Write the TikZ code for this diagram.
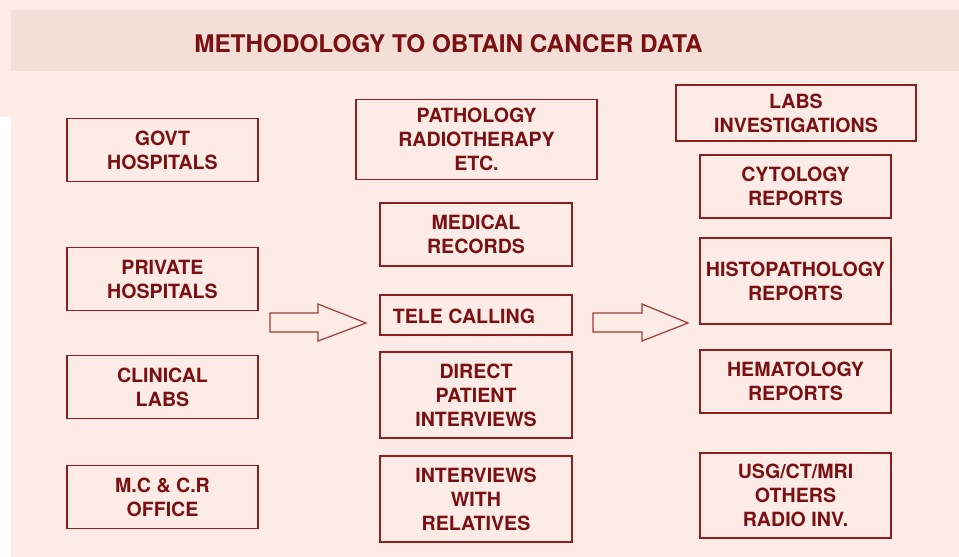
\documentclass[tikz,border=0pt]{standalone}
\usepackage{fontspec}
\setmainfont{TeX Gyre Heros}[BoldFont={* Bold}]
\definecolor{bgpink}{HTML}{FCECE5}
\definecolor{bandpink}{HTML}{F4DFD7}
\definecolor{txtred}{HTML}{7A1014}
\definecolor{boxred}{HTML}{8E1E22}
\definecolor{arrred}{HTML}{A23A3A}
\begin{document}
\begin{tikzpicture}[x=1pt,y=-1pt,
  box/.style={draw=boxred, line width=1.3pt, rectangle, inner sep=0pt,
    text=txtred, align=center,
    font=\bfseries\fontsize{19.6}{24}\selectfont},
  bigarrow/.style={draw=arrred, line width=1.2pt, line join=miter}]
\useasboundingbox (0,0) rectangle (959,557);
\fill[white] (0,0) rectangle (959,557);
\fill[bgpink] (0,0) rectangle (959,117);
\fill[bgpink] (11,117) rectangle (959,557);
\fill[bandpink] (11,10) rectangle (959,70.5);
\node[text=txtred, font=\bfseries\fontsize{24.3}{28}\selectfont] (title) at (448.5,43.5) {METHODOLOGY TO OBTAIN CANCER DATA};
% left column
\node[box, minimum width=191pt, minimum height=63pt] (govt) at (162.5,150) {GOVT\\HOSPITALS};
\node[box, minimum width=191pt, minimum height=63pt] (priv) at (162.5,279) {PRIVATE\\HOSPITALS};
\node[box, minimum width=191pt, minimum height=63pt] (clin) at (162.5,387) {CLINICAL\\LABS};
\node[box, minimum width=191pt, minimum height=63pt] (mc) at (162.5,497) {M.C \& C.R\\OFFICE};
% middle column
\node[box, minimum width=241pt, minimum height=80pt] (path) at (476.5,139.5) {PATHOLOGY\\RADIOTHERAPY\\ETC.};
\node[box, minimum width=192pt, minimum height=63pt] (med) at (476,234.5) {MEDICAL\\RECORDS};
\node[box, minimum width=192pt, minimum height=40pt] (tele) at (476,315) {};
\node[text=txtred, font=\bfseries\fontsize{19.6}{24}\selectfont] (teletxt) at (464,316) {TELE CALLING};
\node[box, minimum width=192pt, minimum height=86pt] (direct) at (476,395) {DIRECT\\PATIENT\\INTERVIEWS};
\node[box, minimum width=192pt, minimum height=86pt] (rel) at (476,499) {INTERVIEWS\\WITH\\RELATIVES};
% right column
\node[box, minimum width=240pt, minimum height=56pt] (labs) at (796,113) {LABS\\INVESTIGATIONS};
\node[box, minimum width=191pt, minimum height=63pt] (cyto) at (795.5,186.5) {CYTOLOGY\\REPORTS};
\node[box, minimum width=191pt, minimum height=86pt] (histo) at (795.5,281) {HISTOPATHOLOGY\\REPORTS};
\node[box, minimum width=191pt, minimum height=63pt] (hema) at (795.5,381.5) {HEMATOLOGY\\REPORTS};
\node[box, minimum width=191pt, minimum height=85pt] (usg) at (795.5,495.5) {USG/CT/MRI\\OTHERS\\RADIO INV.};
% block arrows
\draw[bigarrow] (270,313) -- (318,313) -- (318,304) -- (366,323) -- (318,341) -- (318,332) -- (270,332) -- cycle;
\draw[bigarrow] (593,313) -- (642,313) -- (642,304) -- (688,323) -- (642,341) -- (642,332) -- (593,332) -- cycle;
\end{tikzpicture}
\end{document}
